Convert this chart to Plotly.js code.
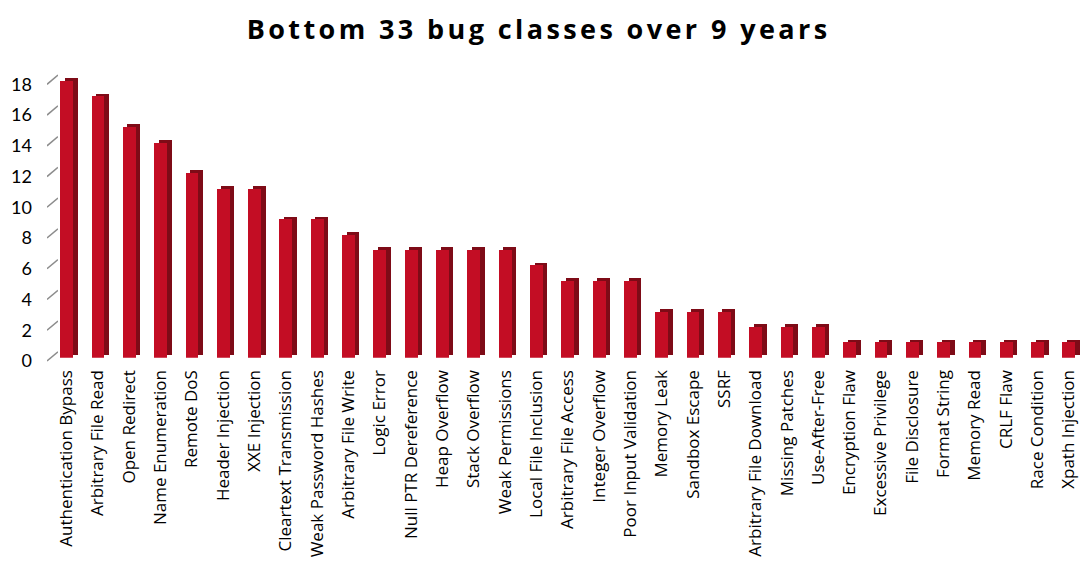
<!DOCTYPE html>
<html>
<head>
<meta charset="utf-8">
<script src="https://cdn.plot.ly/plotly-3.0.1.min.js"></script>
<style>
html,body{margin:0;padding:0;background:#fff;}
#chart{width:1088px;height:562px;}
.gtitle{letter-spacing:3.4px;}
</style>
</head>
<body>
<div id="chart"></div>
<script>
var categories = ["Authentication Bypass","Arbitrary File Read","Open Redirect","Name Enumeration","Remote DoS","Header Injection","XXE Injection","Cleartext Transmission","Weak Password Hashes","Arbitrary File Write","Logic Error","Null PTR Dereference","Heap Overflow","Stack Overflow","Weak Permissions","Local File Inclusion","Arbitrary File Access","Integer Overflow","Poor Input Validation","Memory Leak","Sandbox Escape","SSRF","Arbitrary File Download","Missing Patches","Use-After-Free","Encryption Flaw","Excessive Privilege","File Disclosure","Format String","Memory Read","CRLF Flaw","Race Condition","Xpath Injection"];
var counts = [18,17,15,14,12,11,11,9,9,8,7,7,7,7,7,6,5,5,5,3,3,3,2,2,2,1,1,1,1,1,1,1,1];
var yTicks = [0,2,4,6,8,10,12,14,16,18];
var yTickLabels = ["0","2","4","6","8","10","12","14","16","18"];

(function(){
var W = 1088, H = 562;
function fx(px){ return px / W; }
function fy(px){ return (H - px) / H; }

var pxPerUnit = 15.37;
var band = 31.32;
var wallZero = 351.7, frontZero = 357.7, labelZero = 361.0;
var depthX = 4.5, depthY = 2.8;
var backZero = frontZero - depthY;
var plotTop = 60;
var R = (wallZero - plotTop) / pxPerUnit;
var frontLeft = 51;
var backLeft = frontLeft + depthX;

var diagX = [], diagY = [];
var shiftU = (labelZero - wallZero) / pxPerUnit;
yTicks.forEach(function(t){ diagX.push(0,1,null); diagY.push(t, t + shiftU, null); });

var traces = [
  // back copy of bar (visible as right side + top faces)
  { type:'bar', x:categories, y:counts, xaxis:'x2', yaxis:'y2',
    marker:{color:'#7e0b17', line:{width:0}}, width:0.41, hoverinfo:'skip', showlegend:false },
  // diagonal tick marks
  { type:'scatter', mode:'lines', x:diagX, y:diagY, xaxis:'x3', yaxis:'y3',
    line:{color:'#8c8c8c', width:1.5}, hoverinfo:'skip', showlegend:false },
  // front face
  { type:'bar', x:categories, y:counts, xaxis:'x4', yaxis:'y4',
    marker:{color:'#c30d24', line:{width:0}}, width:0.41, showlegend:false }
];

var lblLow = -0.4;
var hidden = { showticklabels:false, ticks:'', showgrid:false, zeroline:false, showline:false };
function ax(o){ var r = {}; for (var k in hidden) r[k] = hidden[k]; for (var k2 in o) r[k2] = o[k2]; return r; }

var layout = {
  width:W, height:H,
  margin:{l:0, r:0, t:0, b:0},
  paper_bgcolor:'#ffffff', plot_bgcolor:'rgba(0,0,0,0)',
  showlegend:false,
  bargap:0,
  title:{text:'Bottom 33 bug classes over 9 years', x:0.495, xanchor:'center', y:0.947, yanchor:'middle',
         font:{family:'Open Sans, sans-serif', size:27, color:'#000000', weight:'bold'}},
  // back wall with gridlines
  xaxis: ax({ domain:[fx(58), 1], range:[0,1], anchor:'y' }),
  yaxis: ax({ domain:[fy(wallZero), fy(plotTop)], range:[0, R], anchor:'x', tickvals:yTicks,
              showgrid:true, gridcolor:'#9a9a9a', gridwidth:2 }),
  // back bars
  xaxis2: ax({ type:'category', domain:[fx(backLeft), 1], range:[-0.5, (W - backLeft)/band - 0.5], anchor:'y2' }),
  yaxis2: ax({ domain:[fy(backZero), fy(backZero - R*pxPerUnit)], range:[0, R], anchor:'x2' }),
  // diagonal ticks + y labels
  xaxis3: ax({ domain:[fx(47), fx(58)], range:[0,1], anchor:'y3' }),
  yaxis3: ax({ domain:[fy(labelZero - lblLow*pxPerUnit), fy(labelZero - R*pxPerUnit)], range:[lblLow, R], anchor:'x3',
               tickvals:yTicks, ticktext:yTickLabels, showticklabels:true, ticklabelstandoff:14,
               tickfont:{family:'Lato, sans-serif', size:18, color:'#000'} }),
  // front bars + category labels
  xaxis4: ax({ type:'category', domain:[fx(frontLeft), fx(frontLeft + 33*band)], range:[-0.5, 32.5], anchor:'y4',
               showticklabels:true, tickangle:-90, ticklabelstandoff:8,
               tickfont:{family:'Open Sans, sans-serif', size:17, color:'#000'} }),
  yaxis4: ax({ domain:[fy(frontZero), fy(frontZero - R*pxPerUnit)], range:[0, R], anchor:'x4' })
};

Plotly.newPlot('chart', traces, layout, {displayModeBar:false, staticPlot:true});
})();
</script>
</body>
</html>
